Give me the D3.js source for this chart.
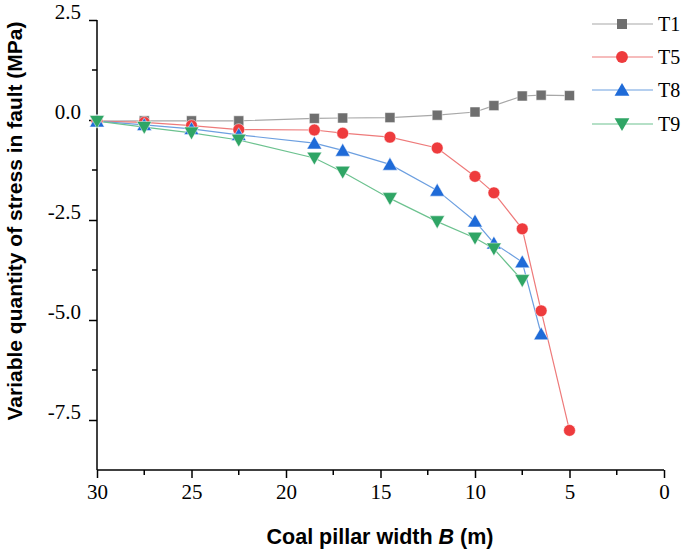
<!DOCTYPE html>
<html><head><meta charset="utf-8">
<script src="https://cdn.jsdelivr.net/npm/d3@7"></script>
<style>body{margin:0;background:#fff}svg{display:block}</style>
</head><body>
<svg id="c" width="685" height="551"></svg>
<script>
const widths = [30, 27.5, 25, 22.5, 18.5, 17, 14.5, 12, 10, 9, 7.5, 6.5, 5];
const T1 = [-0.03, -0.02, -0.02, -0.02, 0.04, 0.05, 0.06, 0.12, 0.2, 0.36, 0.6, 0.62, 0.61];
const T5 = [-0.03, -0.06, -0.14, -0.24, -0.25, -0.33, -0.43, -0.7, -1.41, -1.82, -2.72, -4.77, -7.76];
const T8 = [-0.03, -0.12, -0.22, -0.37, -0.58, -0.76, -1.11, -1.76, -2.53, -3.08, -3.55, -5.35];
const T9 = [-0.03, -0.18, -0.32, -0.5, -0.95, -1.3, -1.96, -2.54, -2.95, -3.22, -4.01];
const seriesNames = ["T1", "T5", "T8", "T9"];
const xTicks = [30, 25, 20, 15, 10, 5, 0];
const yTicks = [2.5, 0.0, -2.5, -5.0, -7.5];

const series = [
  {name: "T1", vals: T1, fill: "#6f6f6f", line: "#a8a8a8", sym: d3.symbolSquare, size: 100, rot: 0},
  {name: "T5", vals: T5, fill: "#ee3b3d", line: "#ee7a7a", sym: d3.symbolCircle, size: 110, rot: 0},
  {name: "T8", vals: T8, fill: "#1f6bd8", line: "#6c9fe0", sym: d3.symbolTriangle, size: 95, rot: 0},
  {name: "T9", vals: T9, fill: "#2fa565", line: "#6cc28f", sym: d3.symbolTriangle, size: 95, rot: 180}
];

const svg = d3.select("#c");
const x = d3.scaleLinear().domain([30, 0]).range([97, 664]);
const y = d3.scaleLinear().domain([2.5, -8.75]).range([20, 470]);
const serif = "Liberation Serif, Times New Roman, serif";
const sans = "Liberation Sans, Arial, sans-serif";

// axes
const xAxis = d3.axisBottom(x).tickValues(xTicks).tickFormat(d => String(d)).tickSize(8).tickPadding(6).tickSizeOuter(0);
const gx = svg.append("g").attr("transform", "translate(0,470)").call(xAxis);
gx.selectAll("text").attr("font-family", serif).attr("font-size", 21).attr("fill", "#000");
gx.selectAll("line,path").attr("stroke", "#000").attr("stroke-width", 1.5);
gx.selectAll(".minor").data(d3.range(27.5, 0, -5)).enter().append("line")
  .attr("x1", d => x(d)).attr("x2", d => x(d)).attr("y1", 0).attr("y2", 5)
  .attr("stroke", "#000").attr("stroke-width", 1.5);

const yAxis = d3.axisLeft(y).tickValues(yTicks).tickFormat(d => d.toFixed(1)).tickSize(8).tickPadding(8).tickSizeOuter(0);
const gy = svg.append("g").attr("transform", "translate(97,0)").call(yAxis);
gy.selectAll("text").attr("font-family", serif).attr("font-size", 21).attr("fill", "#000").attr("y", -8);
gy.selectAll("line,path").attr("stroke", "#000").attr("stroke-width", 1.5);
gy.selectAll(".minor").data([1.25, -1.25, -3.75, -6.25]).enter().append("line")
  .attr("y1", d => y(d)).attr("y2", d => y(d)).attr("x1", 0).attr("x2", -5)
  .attr("stroke", "#000").attr("stroke-width", 1.5);
gy.select("path").attr("d", `M0,${y(2.5)}V${y(-8.75)}`);
gx.select("path").attr("d", `M${x(30)},0H${x(0)}`);

// axis titles
svg.append("text").attr("x", 380).attr("y", 544).attr("text-anchor", "middle")
  .attr("font-family", sans).attr("font-weight", "bold").attr("font-size", 21.5)
  .call(t => {
    t.append("tspan").text("Coal pillar width ");
    t.append("tspan").attr("font-style", "italic").text("B");
    t.append("tspan").text(" (m)");
  });
svg.append("text").attr("transform", "translate(22,221) rotate(-90)").attr("text-anchor", "middle")
  .attr("font-family", sans).attr("font-weight", "bold").attr("font-size", 21)
  .text("Variable quantity of stress in fault (MPa)");

// series
const line = d3.line().x(d => x(d[0])).y(d => y(d[1]));
series.forEach(s => {
  const pts = s.vals.map((v, i) => [widths[i], v]);
  svg.append("path").datum(pts).attr("d", line).attr("fill", "none").attr("stroke", s.line).attr("stroke-width", 1.2);
});
series.forEach(s => {
  const pts = s.vals.map((v, i) => [widths[i], v]);
  svg.append("g").selectAll("path").data(pts).enter().append("path")
    .attr("d", d3.symbol().type(s.sym).size(s.size))
    .attr("transform", d => `translate(${x(d[0])},${y(d[1]) + (s.sym === d3.symbolTriangle ? (s.rot ? -1.5 : 1.5) : 0)}) rotate(${s.rot})`)
    .attr("fill", s.fill).attr("stroke", "#fff").attr("stroke-width", 0.5);
});

// legend
const legY = [24, 57, 90, 124];
series.forEach((s, i) => {
  const g = svg.append("g").attr("transform", `translate(0,${legY[i]})`);
  g.append("line").attr("x1", 592).attr("x2", 653).attr("y1", 0).attr("y2", 0).attr("stroke", s.line).attr("stroke-width", 1.2);
  g.append("path").attr("d", d3.symbol().type(s.sym).size(s.size))
    .attr("transform", `translate(622,${s.sym === d3.symbolTriangle ? (s.rot ? -1.5 : 1.5) : 0}) rotate(${s.rot})`)
    .attr("fill", s.fill);
  g.append("text").attr("x", 658).attr("y", 7).attr("font-family", serif)
    .attr("font-size", 20).attr("fill", "#000").text(seriesNames[i]);
});
</script>
</body></html>
